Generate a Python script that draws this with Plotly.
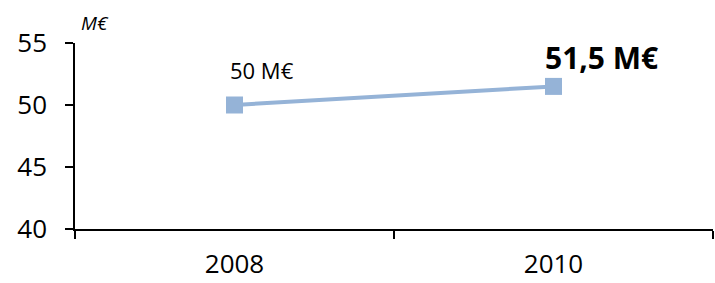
import plotly.graph_objects as go

years = ["2008", "2010"]
values = [50, 51.5]
labels = ["50 M€", "51,5 M€"]
y_ticks = [40, 45, 50, 55]

color = "#95B3D7"
font = "Open Sans"

fig = go.Figure()
fig.add_trace(go.Scatter(
    x=years, y=values, mode="lines+markers",
    line=dict(color=color, width=4),
    marker=dict(symbol="square", size=17, color=color),
    showlegend=False, hoverinfo="skip",
))

fig.add_annotation(x=0, y=values[0], text=labels[0], showarrow=False,
                   xshift=27, yshift=35, font=dict(family=font, size=22, color="black"))
fig.add_annotation(x=1, y=values[1], text="<b>" + labels[1] + "</b>", showarrow=False,
                   xshift=48, yshift=29, font=dict(family=font, size=30, color="black"))
fig.add_annotation(xref="paper", yref="paper", x=0.007, y=1.0, text="<i>M€</i>",
                   showarrow=False, xanchor="left", yanchor="bottom", yshift=5,
                   font=dict(family=font, size=19, color="black"))

fig.update_layout(
    width=715, height=283,
    margin=dict(l=75, r=2, t=43, b=52),
    paper_bgcolor="white", plot_bgcolor="white",
    font=dict(family=font, color="black"),
)
fig.update_xaxes(
    type="category", range=[-0.5, 1.5], tickson="boundaries",
    showline=True, linecolor="black", linewidth=1.5,
    ticks="outside", ticklen=8, tickcolor="black", tickwidth=1.5,
    tickfont=dict(family=font, size=26), ticklabelstandoff=11,
    showgrid=False, zeroline=False,
)
fig.update_yaxes(
    range=[40, 55], tickvals=y_ticks,
    showline=True, linecolor="black", linewidth=1.5,
    ticks="outside", ticklen=8, tickcolor="black", tickwidth=1.5,
    tickfont=dict(family=font, size=26), ticklabelstandoff=13,
    showgrid=False, zeroline=False,
)

fig.write_html("out.html", config={"displayModeBar": False},
               post_script="document.body.style.margin='0';")
